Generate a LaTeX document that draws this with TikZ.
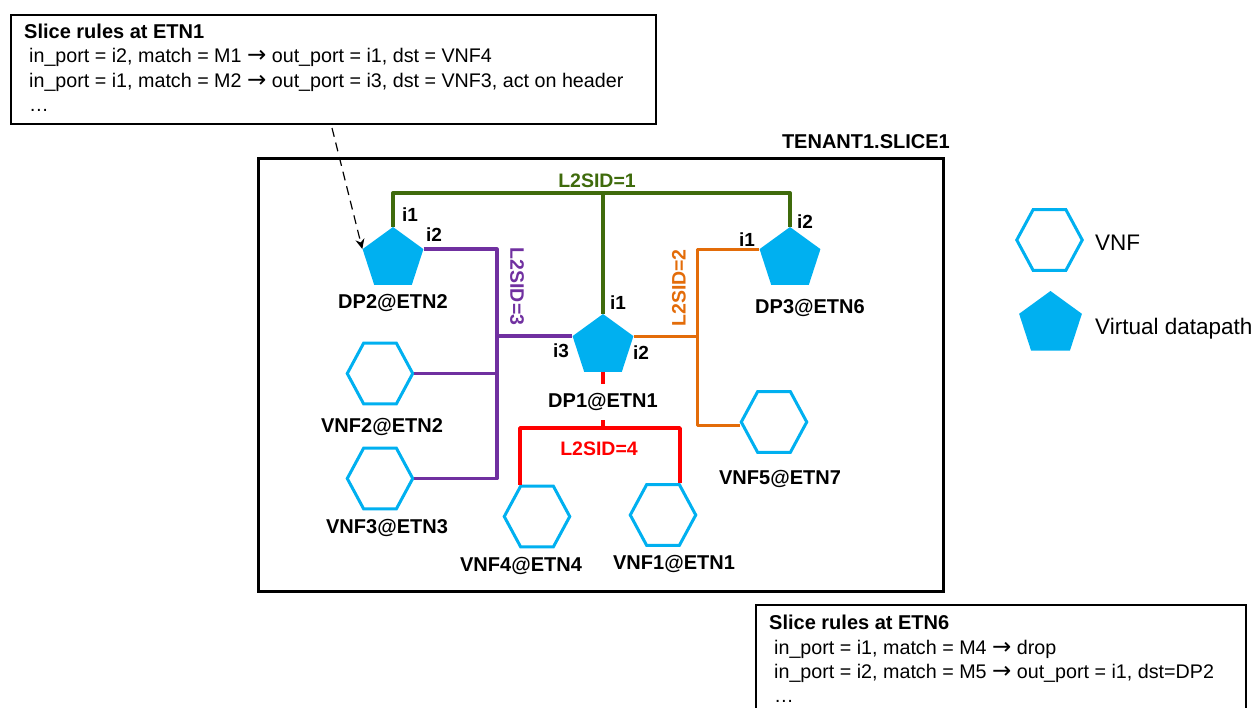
\documentclass[tikz,border=0pt]{standalone}
\usepackage{fontspec}
\setmainfont{Liberation Sans}
\newfontfamily\arrowfont{DejaVu Sans}
\newcommand{\rarr}{{\arrowfont\fontsize{23}{24}\selectfont →}}
\usetikzlibrary{shapes.geometric,arrows.meta}
\definecolor{vblue}{HTML}{00B0F0}
\definecolor{lgreen}{HTML}{3F6B0C}
\definecolor{lpurple}{HTML}{7030A0}
\definecolor{lorange}{HTML}{E36C09}
\definecolor{lred}{HTML}{FF0000}
\tikzset{
  dpnode/.style={regular polygon,regular polygon sides=5,fill=vblue,minimum size=64pt,inner sep=0pt},
  vnfnode/.style={regular polygon,regular polygon sides=6,draw=vblue,line width=3pt,fill=white,minimum size=65.5pt,inner sep=0pt,yscale=1.07,transform shape},
  lab/.style={font=\fontsize{20}{24}\selectfont\bfseries,inner sep=1pt,text=black},
  port/.style={font=\fontsize{19}{22}\selectfont\bfseries,inner sep=0pt,text=black},
  sid/.style={font=\fontsize{19.5}{22}\selectfont\bfseries,inner sep=0pt},
  rulebox/.style={draw=black,line width=1.6pt,fill=white,inner sep=0pt,anchor=north west},
  ruletext/.style={font=\fontsize{19.7}{24.3}\selectfont,align=left,inner sep=0pt,anchor=north west},
  glink/.style={draw=lgreen,line width=4pt,line join=round},
  plink/.style={draw=lpurple,line width=3.2pt,line join=round},
  olink/.style={draw=lorange,line width=3pt,line join=round},
  rlink/.style={draw=lred,line width=3.6pt,line join=round},
  legtext/.style={font=\fontsize{22.5}{26}\selectfont,inner sep=0pt,anchor=west},
}
\begin{document}
\begin{tikzpicture}[x=1pt,y=-1pt]
\useasboundingbox (0,0) rectangle (1255,707);
\clip (0,0) rectangle (1255,707);
% frame
\node[draw=black,line width=3.4pt,minimum width=685pt,minimum height=433pt,inner sep=0pt,anchor=north west] (frame) at (257,157) {};
\node[lab,anchor=east] (title) at (951,142) {TENANT1.SLICE1};
% datapaths
\node[dpnode] (dp2) at (393,259) {};
\node[dpnode] (dp1) at (603,346) {};
\node[dpnode] (dp3) at (790,259) {};
% vnfs
\node[vnfnode] (v2) at (380,373.5) {};
\node[vnfnode] (v3) at (380,478.5) {};
\node[vnfnode] (v4) at (537,516.5) {};
\node[vnfnode] (v1) at (663,515) {};
\node[vnfnode] (v5) at (774,422) {};
% junctions
\coordinate (gl) at (393,193);
\coordinate (gm) at (603,193);
\coordinate (gr) at (790,193);
\coordinate (pm) at (dp1.corner 2 -| 497,0);
\coordinate (pt) at (dp2.corner 5 -| pm);
\coordinate (pn) at (v2.east -| pm);
\coordinate (pb) at (v3.east -| pm);
\coordinate (om) at (dp1.corner 5 -| 697,0);
\coordinate (ot) at (dp3.corner 2 -| om);
\coordinate (ob) at (697,425);
\coordinate (oe) at (ob -| v5.west);
\coordinate (rm) at (603,428);
\coordinate (rl) at (520,428);
\coordinate (rr) at (680,428);
\coordinate (re4) at (rl |- v4.north);
\coordinate (re1) at (rr |- v1.north);
% green
\draw[glink] (dp2.corner 1) -- (gl) -- (gr) -- (dp3.corner 1);
\draw[glink] (dp1.corner 1) -- (gm);
% purple
\draw[plink] (dp2.corner 5) -- (pt) -- (pb) -- (v3.east);
\draw[plink] (dp1.corner 2) -- (pm);
\draw[plink] (v2.east) -- (pn);
% orange
\draw[olink] (dp3.corner 2) -- (ot) -- (ob) -- (oe);
\draw[olink] (dp1.corner 5) -- (om);
% red
\draw[rlink] (dp1.south) -- (rm);
\draw[rlink] (re4) -- (rl) -- (rr) -- (re1);
% node labels
\node[lab,fill=white,minimum height=36pt] (l1) at (603,402) {DP1@ETN1};
\node[lab] (l2) at (393,303) {DP2@ETN2};
\node[lab] (l3) at (810,308) {DP3@ETN6};
\node[lab] (l4) at (382,427) {VNF2@ETN2};
\node[lab] (l5) at (387,528) {VNF3@ETN3};
\node[lab] (l6) at (521,566) {VNF4@ETN4};
\node[lab] (l7) at (674,564) {VNF1@ETN1};
\node[lab] (l8) at (780,479) {VNF5@ETN7};
% port labels
\node[port] (p21) at (410,215) {i1};
\node[port] (p22) at (434,235) {i2};
\node[port] (p11) at (618,303) {i1};
\node[port] (p12) at (641,353) {i2};
\node[port] (p13) at (561,351) {i3};
\node[port] (p31) at (747,240) {i1};
\node[port] (p32) at (805,222) {i2};
% sid labels
\node[sid,text=lgreen] (s1) at (597,181) {L2SID=1};
\node[sid,text=lpurple,rotate=-90] (s3) at (517,286.5) {L2SID=3};
\node[sid,text=lorange,rotate=90] (s2) at (679,288) {L2SID=2};
\node[sid,text=lred] (s4) at (599,449) {L2SID=4};
% rule boxes
\node[rulebox,minimum width=645pt,minimum height=109pt] (box1) at (10,14) {};
\node[ruletext] (t1) at (24,24) {{\fontsize{20}{24.3}\selectfont\bfseries Slice rules at ETN1}\\
\hspace*{5pt}in\_port = i2, match = M1 \rarr{} out\_port = i1, dst = VNF4\\
\hspace*{5pt}in\_port = i1, match = M2 \rarr{} out\_port = i3, dst = VNF3, act on header\\
\hspace*{5pt}…};
\node[rulebox,minimum width=490pt,minimum height=130pt] (box2) at (755,604) {};
\node[ruletext] (t2) at (769,615) {{\fontsize{20}{24.3}\selectfont\bfseries Slice rules at ETN6}\\
\hspace*{5pt}in\_port = i1, match = M4 \rarr{} drop\\
\hspace*{5pt}in\_port = i2, match = M5 \rarr{} out\_port = i1, dst=DP2\\
\hspace*{5pt}…};
% callout
\coordinate (cstart) at (332,128);
\draw[black,line width=1.2pt,dash pattern=on 9pt off 6pt,-{Stealth[length=10pt,width=9pt]}] (cstart) -- (dp2.corner 2);
% legend
\node[vnfnode] (lv) at (1049.5,240) {};
\node[dpnode,minimum size=66pt] (ld) at (1050.5,324) {};
\node[legtext] (ltv) at (1095,243) {VNF};
\node[legtext] (ltd) at (1095,329) {Virtual datapath};
\end{tikzpicture}
\end{document}
